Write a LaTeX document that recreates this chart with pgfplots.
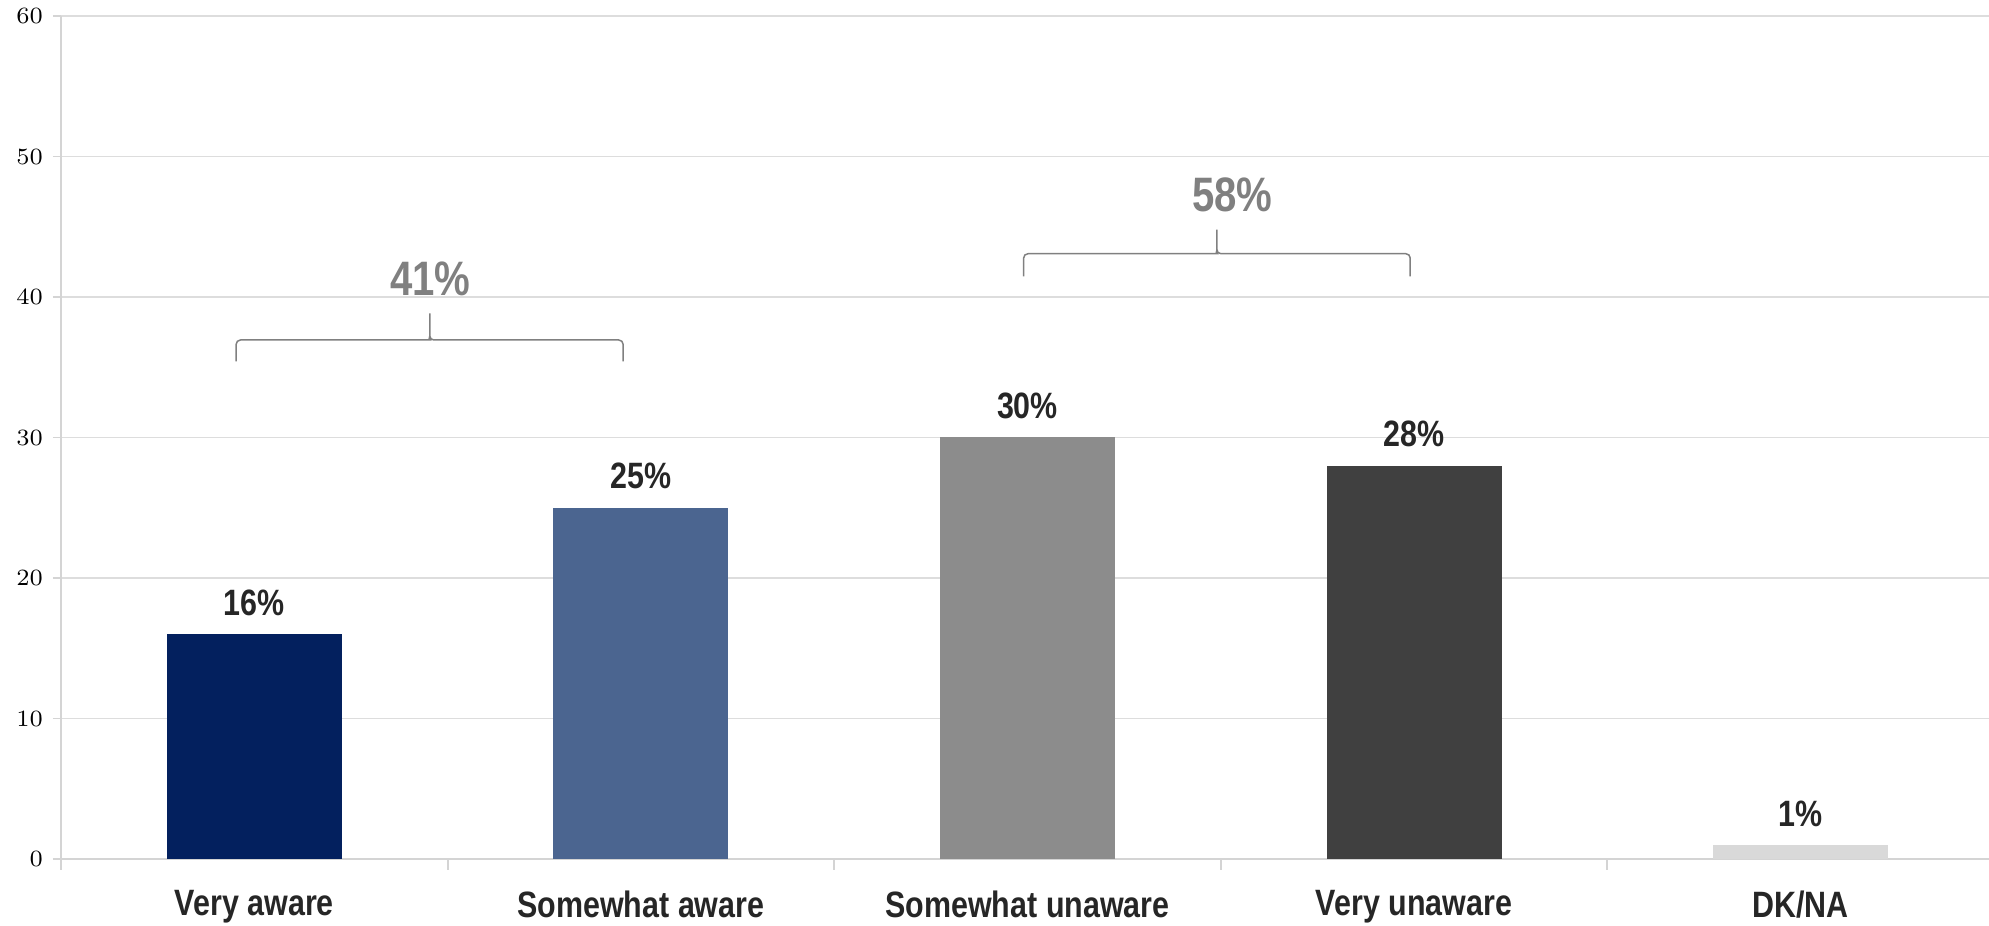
\documentclass[border=0pt]{standalone}
\usepackage{pgfplots}
\pgfplotsset{compat=1.18}
\usepackage{fontspec}
\setmainfont{Liberation Sans}
\newfontfamily\narrow[FakeStretch=0.83]{Liberation Sans}
\definecolor{cA}{HTML}{03205E}
\definecolor{cB}{HTML}{4B6590}
\definecolor{cC}{HTML}{8C8C8C}
\definecolor{cD}{HTML}{404040}
\definecolor{cE}{HTML}{D9D9D9}
\definecolor{txt}{HTML}{262626}
\definecolor{brc}{HTML}{808080}
\definecolor{gridc}{HTML}{DDDDDD}
\definecolor{axc}{HTML}{D4D4D4}
\begin{document}
\begin{tikzpicture}
\begin{axis}[
  at={(18.3pt,20.1pt)}, anchor=south west,
  scale only axis, width=579.9pt, height=252.9pt,
  xmin=-0.5, xmax=4.5, ymin=0, ymax=60,
  ytick={0,10,...,60},
  xtick={0,...,4},
  xticklabels={Very aware, Somewhat aware, Somewhat unaware, Very unaware, DK/NA},
  minor xtick={-0.5,0.5,...,4.5},
  major x tick style={draw=none},
  minor x tick style={draw=axc, line width=0.6pt},
  minor tick length=3.2pt,
  major tick length=2.4pt,
  tick align=outside,
  ybar, bar width=52.5pt, bar shift=0pt,
  axis x line*=bottom, axis y line*=left,
  axis line style={draw=axc, line width=0.5pt},
  x axis line style={line width=0.7pt},
  ymajorgrids, grid style={draw=gridc, line width=0.45pt},
  y tick style={draw=axc, line width=0.45pt},
  yticklabel style={font=\fontsize{6.6}{7.5}\selectfont, xshift=0.5pt},
  xticklabel style={font=\narrow\bfseries\fontsize{11}{13}\selectfont, text=txt, yshift=-3.6pt},
  nodes near coords={\pgfmathprintnumber[assume math mode=true]{\pgfplotspointmeta}\%},
  every node near coord/.append style={font=\narrow\bfseries\fontsize{11}{13}\selectfont, text=txt, yshift=2pt},
  clip=false,
]
\addplot[fill=cA, draw=none] coordinates {(0,16)};
\addplot[fill=cB, draw=none] coordinates {(1,25)};
\addplot[fill=cC, draw=none] coordinates {(2,30)};
\addplot[fill=cD, draw=none] coordinates {(3,28)};
\addplot[fill=cE, draw=none] coordinates {(4,1)};
% braces
\draw[brc, line width=0.45pt]
  (axis cs:-0.047,35.41) [rounded corners=1.3pt] |- ([xshift=-1.2pt]axis cs:0.454,36.94) [sharp corners]
  to[out=0,in=-90] ([yshift=1.2pt]axis cs:0.454,36.94) -- (axis cs:0.454,38.84)
  -- ([yshift=1.2pt]axis cs:0.454,36.94)
  to[out=-90,in=180] ([xshift=1.2pt]axis cs:0.454,36.94) [rounded corners=1.3pt]
  -| (axis cs:0.954,35.41);
\draw[brc, line width=0.45pt]
  (axis cs:1.99,41.46) [rounded corners=1.3pt] |- ([xshift=-1.2pt]axis cs:2.49,43.08) [sharp corners]
  to[out=0,in=-90] ([yshift=1.2pt]axis cs:2.49,43.08) -- (axis cs:2.49,44.79)
  -- ([yshift=1.2pt]axis cs:2.49,43.08)
  to[out=-90,in=180] ([xshift=1.2pt]axis cs:2.49,43.08) [rounded corners=1.3pt]
  -| (axis cs:2.99,41.46);
\node[font=\narrow\bfseries\fontsize{14.5}{17}\selectfont, text=brc] at (axis cs:0.455,41.3) {41\%};
\node[font=\narrow\bfseries\fontsize{14.5}{17}\selectfont, text=brc] at (axis cs:2.53,47.3) {58\%};
\end{axis}
\pgfresetboundingbox
\useasboundingbox (0,0) rectangle (596.7pt,277.8pt);
\end{tikzpicture}
\end{document}
